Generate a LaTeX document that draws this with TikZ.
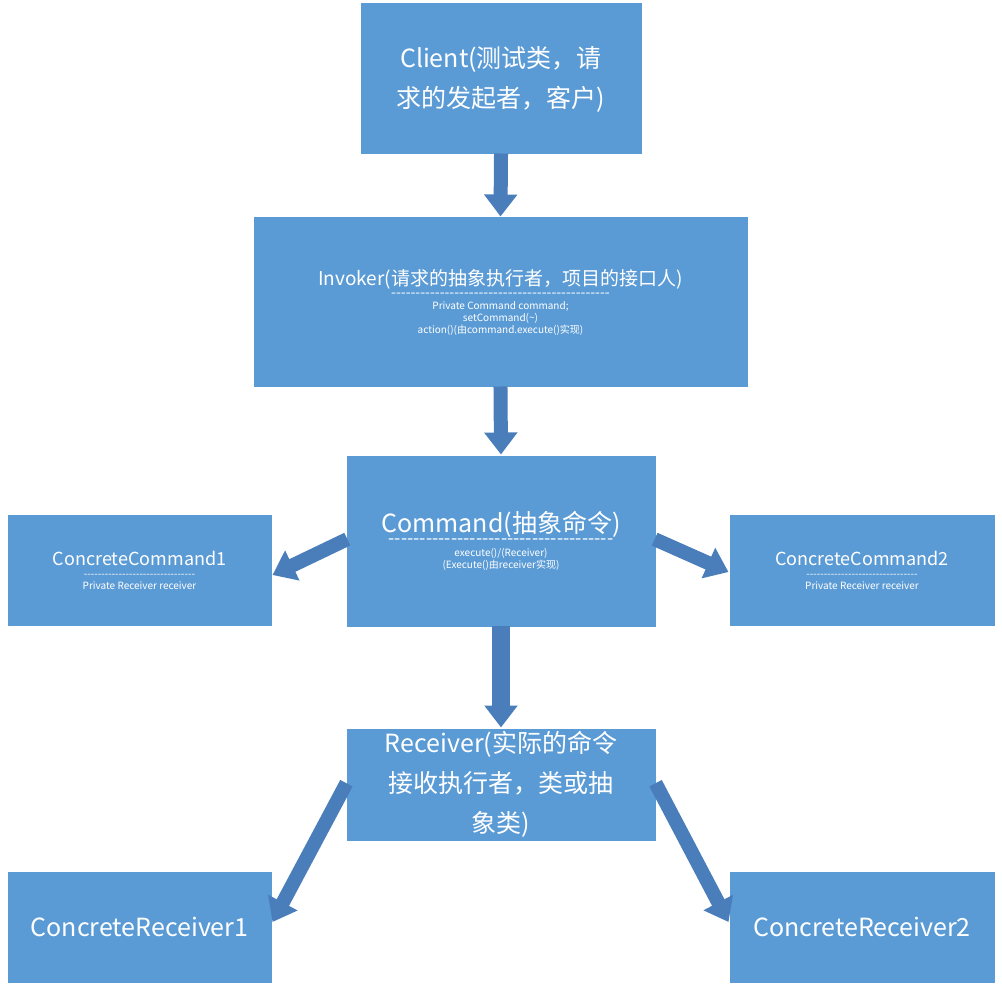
\documentclass[tikz,border=0pt]{standalone}
\usepackage{fontspec}
\setmainfont{Noto Sans CJK SC}[Ligatures=TeXOff]
\usetikzlibrary{arrows.meta,positioning}
\definecolor{boxblue}{HTML}{5B9BD5}
\definecolor{arrowblue}{HTML}{4A7EBB}
\tikzset{
  cls/.style={draw=white, line width=1pt, fill=boxblue, text=white, align=center, inner sep=2pt},
  big/.style={font=\fontsize{25}{40}\selectfont},
  flow/.style={-{Triangle[length=22pt,width=32pt]}, line width=14pt, arrowblue, shorten <=-2pt},
}
\begin{document}
\begin{tikzpicture}[x=1pt,y=-1pt]
    \useasboundingbox (0,0) rectangle (1002,992);
    % class boxes
    \node[cls, big, minimum width=282pt, minimum height=152pt] (client) at (501,79)
        {Client(测试类，请\\求的发起者，客户)};
    \node[cls, minimum width=495pt, minimum height=171pt] (invoker) at (500.5,302.5)
        {\fontsize{19}{30}\selectfont Invoker(请求的抽象执行者，项目的接口人)\\
         \fontsize{14}{22}\selectfont ---------------------------------------------\\
          Private Command command;\\ setCommand(\textasciitilde)\\ action()(由command.execute()实现)};
    \node[cls, minimum width=310pt, minimum height=172pt] (command) at (501,541)
        {\fontsize{25}{40}\selectfont Command(抽象命令)\\
         \fontsize{18}{36}\selectfont ------------------------------------\\
          execute()/(Receiver)\\ (Execute()由receiver实现)};
    \node[cls, minimum width=265pt, minimum height=112pt] (cc1) at (139.5,570)
        {\fontsize{18}{28}\selectfont ConcreteCommand1\\ --------------------------------\\ Private Receiver receiver};
    \node[cls, minimum width=266pt, minimum height=112pt] (cc2) at (862,570)
        {\fontsize{18}{28}\selectfont ConcreteCommand2\\ --------------------------------\\ Private Receiver receiver};
    \node[cls, big, text width=290pt, minimum width=310pt, minimum height=113pt] (receiver) at (501,784.5)
        {Receiver(实际的命令\\接收执行者，类或抽\\象类)};
    \node[cls, big, minimum width=265pt, minimum height=112pt] (cr1) at (139.5,927)
        {ConcreteReceiver1};
    \node[cls, big, minimum width=266pt, minimum height=112pt] (cr2) at (862,927)
        {ConcreteReceiver2};
    % connectors
    \draw[flow] (client.south) -- (invoker.north);
    \draw[flow] (invoker.south) -- (command.north);
    \draw[flow, line width=18pt] (command.south) -- (receiver.north);
    \draw[flow] (command.west |- 0,540) -- (cc1.east |- 0,575);
    \draw[flow] (command.east |- 0,540) -- (cc2.west |- 0,572);
    \draw[flow] (receiver.west |- 0,785) -- (cr1.east |- 0,922);
    \draw[flow] (receiver.east |- 0,785) -- (cr2.west |- 0,922);
\end{tikzpicture}
\end{document}
